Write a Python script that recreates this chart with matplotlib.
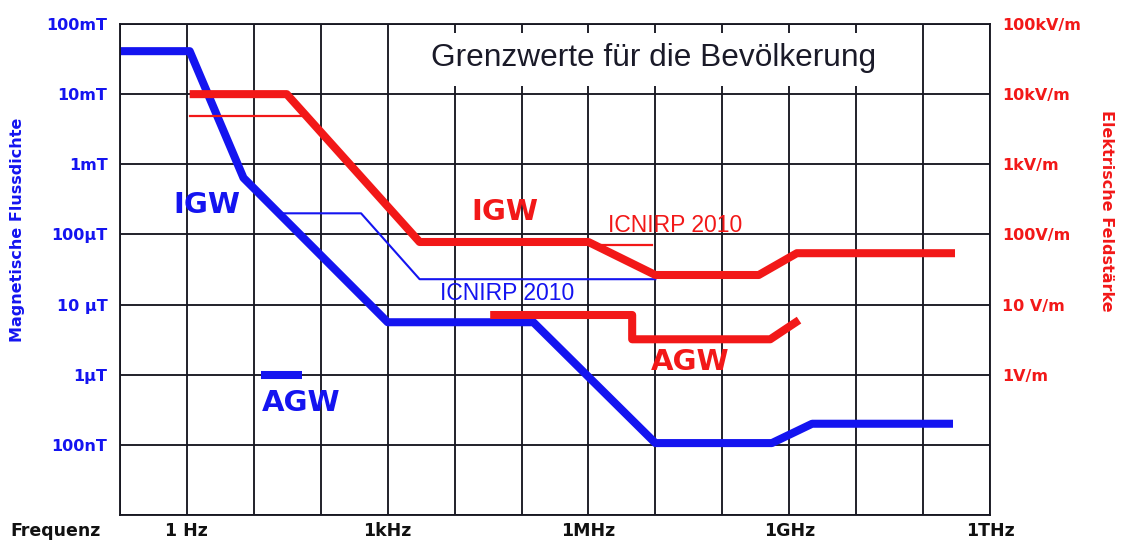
import numpy as np
import matplotlib
matplotlib.use("Agg")
import matplotlib.pyplot as plt
from matplotlib.patches import Rectangle
from matplotlib.ticker import NullLocator

# ── colours / fonts ──────────────────────────────────────────────────
BLUE = "#1414f0"
RED = "#f21818"
GRID = "#181822"
BOLD = dict(family="DejaVu Sans", fontweight="bold")

# ── axis ticks (one per decade) ──────────────────────────────────────
freq_ticks = 10.0 ** np.arange(-1, 13)
freq_labels = ["", "1 Hz", "", "", "1kHz", "", "", "1MHz", "", "", "1GHz", "", "", "1THz"]
b_ticks = 10.0 ** np.arange(-8, 0)
b_labels = ["", "100nT", "1µT", "10 µT", "100µT", "1mT", "10mT", "100mT"]
e_ticks = 10.0 ** np.arange(-2, 6)
e_labels = ["", "", "1V/m", "10 V/m", "100V/m", "1kV/m", "10kV/m", "100kV/m"]

# ── magnetic flux density limits (T) ─────────────────────────────────
igw_b_f = [0.1, 1.1, 7, 1000, 1.5e5, 1e7, 5.5e8, 2.2e9, 2.8e11]
igw_b_val = [4.1e-2, 4.1e-2, 6.4e-4, 5.6e-6, 5.6e-6, 1.06e-7, 1.06e-7, 2e-7, 2e-7]

icnirp_b_f = [25, 400, 3000, 1e7]
icnirp_b_val = [2e-4, 2e-4, 2.3e-5, 2.3e-5]

agw_b_f = [13, 52]
agw_b_val = [1e-6, 1e-6]

# ── electric field limits (V/m) ──────────────────────────────────────
igw_e_f = [1.1, 31, 3000, 1e6, 1e7, 3.5e8, 1.3e9, 3e11]
igw_e_val = [1e4, 1e4, 78, 78, 26.4, 26.4, 54, 54]

icnirp_e_low_f = [1.1, 55]
icnirp_e_low_val = [4.9e3, 4.9e3]
icnirp_e_high_f = [1.6e6, 9e6]
icnirp_e_high_val = [70, 70]

agw_e_f = [3.4e4, 4.5e6, 4.5e6, 5.2e8, 1.4e9]
agw_e_val = [7.1, 7.1, 3.2, 3.2, 6.0]


fig = plt.figure(figsize=(11.22, 5.43), dpi=100)
ax = fig.add_axes([120 / 1122, 28 / 543, 870 / 1122, 491 / 543])
ax.set_xscale("log")
ax.set_yscale("log")
ax.set_xlim(1e-1, 1e12)
ax.set_ylim(1e-8, 1e-1)

ax.set_xticks(freq_ticks)
ax.set_xticklabels(freq_labels, fontsize=12.5, color="#111111", **BOLD)
ax.set_yticks(b_ticks)
ax.set_yticklabels(b_labels, fontsize=11.5, color=BLUE, **BOLD)
ax.xaxis.set_minor_locator(NullLocator())
ax.yaxis.set_minor_locator(NullLocator())
ax.tick_params(axis="x", length=0, pad=5)
ax.tick_params(axis="y", length=0, pad=9)
ax.set_axisbelow(True)
ax.grid(True, color=GRID, linewidth=1.35)
for s in ax.spines.values():
    s.set_color(GRID)
    s.set_linewidth(1.35)

# white box behind the title, interrupting the grid
ax.add_patch(Rectangle((0.316, 0.874), 0.592, 0.108, transform=ax.transAxes,
                       facecolor="white", edgecolor="none", zorder=1))
ax.text(0.613, 0.93, "Grenzwerte für die Bevölkerung", transform=ax.transAxes,
        ha="center", va="center", fontsize=22.8, family="Liberation Sans",
        color="#1a1a28", zorder=3)

# blue: magnetic flux density
ax.plot(igw_b_f, igw_b_val, color=BLUE, lw=5.8, solid_capstyle="butt", zorder=2)
ax.plot(icnirp_b_f, icnirp_b_val, color=BLUE, lw=1.5, zorder=2)
ax.plot(agw_b_f, agw_b_val, color=BLUE, lw=5.8, solid_capstyle="butt", zorder=2)

ax.text(2.0, 2.6e-4, "IGW", color=BLUE, fontsize=21, ha="center", va="center", **BOLD)
ax.text(51, 4.0e-7, "AGW", color=BLUE, fontsize=21, ha="center", va="center", **BOLD)
ax.text(6e4, 1.45e-5, "ICNIRP 2010", color=BLUE, fontsize=16.5, ha="center",
        va="center", family="Liberation Sans")

# red: electric field on the right axis
ax2 = ax.twinx()
ax2.set_yscale("log")
ax2.set_ylim(1e-2, 1e5)
ax2.set_yticks(e_ticks)
ax2.set_yticklabels(e_labels, fontsize=11.5, color=RED, **BOLD)
ax2.yaxis.set_minor_locator(NullLocator())
ax2.tick_params(axis="y", length=0, pad=9)
for s in ax2.spines.values():
    s.set_visible(False)

ax2.plot(igw_e_f, igw_e_val, color=RED, lw=5.8, solid_capstyle="butt")
ax2.plot(icnirp_e_low_f, icnirp_e_low_val, color=RED, lw=1.6)
ax2.plot(icnirp_e_high_f, icnirp_e_high_val, color=RED, lw=1.6)
ax2.plot(agw_e_f, agw_e_val, color=RED, lw=5.8, solid_capstyle="butt")

ax2.text(5.6e4, 209, "IGW", color=RED, fontsize=21, ha="center", va="center", **BOLD)
ax2.text(3.3e7, 1.5, "AGW", color=RED, fontsize=21, ha="center", va="center", **BOLD)
ax2.text(2e7, 135, "ICNIRP 2010", color=RED, fontsize=16.5, ha="center",
         va="center", family="Liberation Sans")

# axis titles
fig.text(10 / 1122, 1 - 531 / 543, "Frequenz", fontsize=12.5, color="#111111",
         ha="left", va="center", **BOLD)
fig.text(18 / 1122, 1 - 230 / 543, "Magnetische Flussdichte", rotation=90,
         fontsize=11.5, color=BLUE, ha="center", va="center", **BOLD)
fig.text(1106 / 1122, 1 - 211 / 543, "Elektrische Feldstärke", rotation=-90,
         fontsize=11.5, color=RED, ha="center", va="center", **BOLD)

fig.savefig("out.png", dpi=100, facecolor="white")
